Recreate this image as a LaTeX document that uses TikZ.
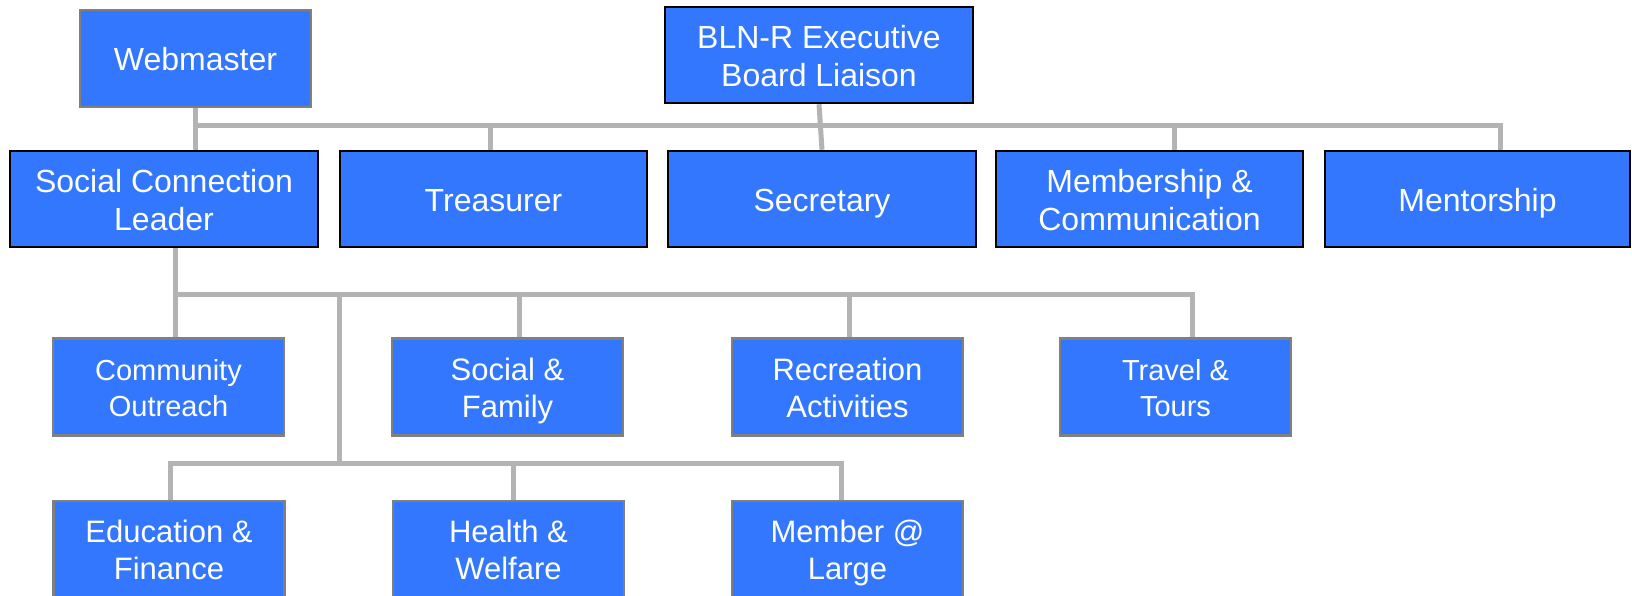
\documentclass[tikz,border=0pt]{standalone}
\usepackage{fontspec}
\setmainfont{Liberation Sans}
\usetikzlibrary{backgrounds}
\definecolor{boxblue}{RGB}{51,119,255}
\definecolor{edgegray}{RGB}{128,128,128}
\definecolor{linegray}{RGB}{179,179,179}
\begin{document}
\begin{tikzpicture}[x=1pt,y=-1pt,
  box/.style={fill=boxblue, line width=2.5pt, inner sep=0pt},
  topbox/.style={box, draw=black, minimum width=308pt, minimum height=96pt},
  subbox/.style={box, draw=edgegray, minimum width=231pt, minimum height=97pt},
  txt/.style={text=white, inner sep=0pt, anchor=base, font=\fontsize{32}{37.5}\selectfont},
  txtm/.style={txt, font=\fontsize{31}{37.5}\selectfont},
  txts/.style={txt, font=\fontsize{29}{36}\selectfont},
  conn/.style={draw=linegray, line width=5pt}]
\useasboundingbox (0,0) rectangle (1632,595);
\clip (0,0) rectangle (1632,595);

% level 0
\node[box, draw=edgegray, minimum width=231pt, minimum height=97pt] (web) at (195.5,58.5) {};
\node[topbox] (bln) at (819,55) {};
% level 1
\node[topbox] (soc) at (164,199) {};
\node[topbox, minimum width=307pt] (tre) at (493.5,199) {};
\node[topbox] (sec) at (822,199) {};
\node[topbox, minimum width=307pt] (mem) at (1149.5,199) {};
\node[topbox, minimum width=305pt] (men) at (1477.5,199) {};
% level 2
\node[subbox] (com) at (168.5,387) {};
\node[subbox] (sf) at (507.5,387) {};
\node[subbox] (rec) at (847.5,387) {};
\node[subbox] (trv) at (1175.5,387) {};
% level 3
\node[subbox] (edu) at (169,549.5) {};
\node[subbox] (hw) at (508.5,549.5) {};
\node[subbox] (mbr) at (847.5,549.5) {};

% texts
\node[txt] (web-t) at ([yshift=-12.3pt]web.center) {Webmaster};
\node[txt] (bln-t1) at ([yshift=6.5pt]bln.center) {BLN-R Executive};
\node[txt] (bln-t2) at ([yshift=-31pt]bln.center) {Board Liaison};
\node[txt] (soc-t1) at ([yshift=6.5pt]soc.center) {Social Connection};
\node[txt] (soc-t2) at ([yshift=-31pt]soc.center) {Leader};
\node[txt] (tre-t) at ([yshift=-12.3pt]tre.center) {Treasurer};
\node[txt] (sec-t) at ([yshift=-12.3pt]sec.center) {Secretary};
\node[txt] (mem-t1) at ([yshift=6.5pt]mem.center) {Membership \&};
\node[txt] (mem-t2) at ([yshift=-31pt]mem.center) {Communication};
\node[txt] (men-t) at ([yshift=-12.3pt]men.center) {Mentorship};

\node[txts] (com-t1) at ([yshift=7pt]com.center) {Community};
\node[txts] (com-t2) at ([yshift=-29pt]com.center) {Outreach};
\node[txtm] (sf-t1) at ([yshift=7pt]sf.center) {Social \&};
\node[txtm] (sf-t2) at ([yshift=-30.5pt]sf.center) {Family};
\node[txtm] (rec-t1) at ([yshift=7pt]rec.center) {Recreation};
\node[txtm] (rec-t2) at ([yshift=-30.5pt]rec.center) {Activities};
\node[txts] (trv-t1) at ([yshift=7pt]trv.center) {Travel \&};
\node[txts] (trv-t2) at ([yshift=-29pt]trv.center) {Tours};

\node[txtm] (edu-t1) at ([yshift=7.5pt]edu.center) {Education \&};
\node[txtm] (edu-t2) at ([yshift=-30pt]edu.center) {Finance};
\node[txtm] (hw-t1) at ([yshift=7.5pt]hw.center) {Health \&};
\node[txtm] (hw-t2) at ([yshift=-30pt]hw.center) {Welfare};
\node[txtm] (mbr-t1) at ([yshift=7.5pt]mbr.center) {Member @};
\node[txtm] (mbr-t2) at ([yshift=-30pt]mbr.center) {Large};

\begin{scope}[on background layer]
  % top bus
  \coordinate (a1) at (195.5,125);
  \coordinate (a2) at (1500,125);
  \draw[conn] (web.south) -- (web.south |- soc.north);
  \draw[conn] (a1) -- (a2) -- (a2 |- men.north);
  \draw[conn] ([xshift=-3.5pt]tre.north |- a1) -- ([xshift=-3.5pt]tre.north);
  \draw[conn] (bln.south) -- (sec.north);
  \draw[conn] ([xshift=24.5pt]mem.north |- a1) -- ([xshift=24.5pt]mem.north);
  % second bus
  \coordinate (b1) at (175,294);
  \coordinate (b2) at (1192,294);
  \draw[conn] (soc.south -| b1) -- (b1 |- com.north);
  \draw[conn] (b1) -- (b2) -- (b2 |- trv.north);
  \draw[conn] ([xshift=11.5pt]sf.north |- b1) -- ([xshift=11.5pt]sf.north);
  \draw[conn] ([xshift=1.5pt]rec.north |- b1) -- ([xshift=1.5pt]rec.north);
  % third bus
  \coordinate (c0) at (339,294);
  \coordinate (c1) at (339,463);
  \coordinate (c2) at (170,463);
  \coordinate (c3) at (841,463);
  \draw[conn] (c0) -- (c1);
  \draw[conn] (c2 |- edu.north) -- (c2) -- (c3) -- (c3 |- mbr.north);
  \draw[conn] ([xshift=4.5pt]hw.north |- c2) -- ([xshift=4.5pt]hw.north);
\end{scope}
\end{tikzpicture}
\end{document}
